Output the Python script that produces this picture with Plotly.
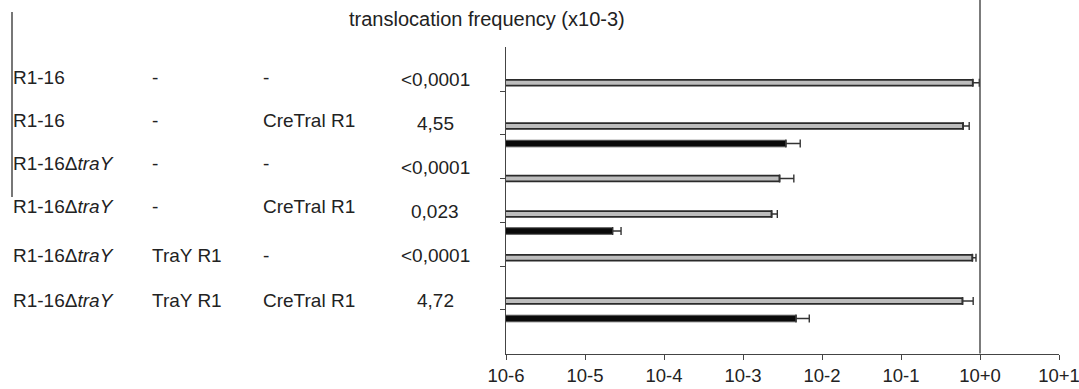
import plotly.graph_objects as go

# ---------------- data ----------------
strain = ["R1-16", "R1-16", "R1-16Δ<i>traY</i>", "R1-16Δ<i>traY</i>",
          "R1-16Δ<i>traY</i>", "R1-16Δ<i>traY</i>"]
complement = ["-", "-", "-", "-", "TraY R1", "TraY R1"]
substrate = ["-", "CreTral R1", "-", "CreTral R1", "-", "CreTral R1"]
freq_text = ["&lt;0,0001", "4,55", "&lt;0,0001", "0,023", "&lt;0,0001", "4,72"]

rows = [1, 2, 3, 4, 5, 6]
gray_values = [0.81, 0.61, 0.0029, 0.0023, 0.80, 0.60]
gray_errors = [0.17, 0.12, 0.0015, 0.00042, 0.09, 0.22]

black_rows = [2, 4, 6]
black_values = [0.0035, 2.24e-5, 0.0047]
black_errors = [0.0018, 6.2e-6, 0.0022]

tick_values = [1e-6, 1e-5, 1e-4, 1e-3, 1e-2, 1e-1, 1, 10]
tick_labels = ["10-6", "10-5", "10-4", "10-3", "10-2", "10-1", "10+0", "10+1"]
title_text = "translocation frequency (x10-3)"

# ---------------- layout constants ----------------
W, H = 1079, 389
FONT = "Liberation Sans, Arial, sans-serif"
TXT = "#222222"
gray_offset = [-0.19, -0.2, 0.0, -0.19, -0.19, -0.2]
black_offset = 0.2

def px(x):
    return x / W

def py(y):
    return 1 - y / H

fig = go.Figure()

fig.add_trace(go.Bar(
    orientation="h",
    y=[r + o for r, o in zip(rows, gray_offset)],
    x=gray_values,
    width=0.13,
    marker=dict(color="#bdbdbd", line=dict(color="#2a2a2a", width=1.8)),
    error_x=dict(type="data", symmetric=False, array=gray_errors,
                 arrayminus=[0] * len(gray_errors),
                 color="#333333", thickness=1.4, width=4),
    showlegend=False,
    hoverinfo="skip",
))
fig.add_trace(go.Bar(
    orientation="h",
    y=[r + black_offset for r in black_rows],
    x=black_values,
    width=0.15,
    marker=dict(color="#0a0a0a", line=dict(color="#555555", width=1)),
    error_x=dict(type="data", symmetric=False, array=black_errors,
                 arrayminus=[0] * len(black_errors),
                 color="#333333", thickness=1.4, width=4),
    showlegend=False,
    hoverinfo="skip",
))

fig.update_layout(
    width=W, height=H,
    margin=dict(l=0, r=0, t=0, b=0, pad=0),
    paper_bgcolor="white", plot_bgcolor="white",
    barmode="overlay",
    font=dict(family=FONT, size=19, color=TXT),
    xaxis=dict(
        type="log", domain=[px(506), px(1059)], range=[-6, 1],
        tickvals=tick_values, ticktext=tick_labels,
        ticks="outside", ticklen=5, tickcolor="#444444", tickwidth=1.4,
        showline=True, linecolor="#444444", linewidth=1.4,
        showgrid=False, zeroline=False, automargin=False,
        ticklabeloverflow="allow",
        tickfont=dict(family=FONT, size=18.5, color=TXT),
    ),
    yaxis=dict(
        domain=[py(353.5), py(47.3)], range=[7, 0],
        tickvals=rows, showticklabels=False,
        ticks="outside", ticklen=5, tickcolor="#444444", tickwidth=1.4,
        showline=True, linecolor="#444444", linewidth=1.4,
        showgrid=False, zeroline=False, automargin=False,
    ),
)

# vertical reference line at 10+0
fig.add_shape(type="line", xref="x", yref="paper", x0=1, x1=1,
              y0=py(353.5), y1=1, line=dict(color="#444444", width=1.4))
# stray left border line
fig.add_shape(type="line", xref="paper", yref="paper", x0=px(12), x1=px(12),
              y0=py(12), y1=py(197), line=dict(color="#777777", width=2))

# title
fig.add_annotation(text=title_text, xref="paper", yref="paper",
                   x=px(486.5), y=py(19), xanchor="center", yanchor="middle",
                   showarrow=False, font=dict(size=20, color=TXT))

row_y = [77, 120.5, 163.7, 206, 256, 300]
val_y = [79.5, 123.5, 167.5, 211.5, 256, 300.5]
for i in range(6):
    for txt, xl in ((strain[i], 11), (complement[i], 149.5), (substrate[i], 261)):
        fig.add_annotation(text=txt, xref="paper", yref="paper",
                           x=px(xl), y=py(row_y[i]), xanchor="left",
                           yanchor="middle", showarrow=False)
    fig.add_annotation(text=freq_text[i], xref="paper", yref="paper",
                       x=px(435), y=py(val_y[i]), xanchor="center",
                       yanchor="middle", showarrow=False)

fig.write_html(
    "out.html",
    config={"displayModeBar": False},
    post_script="document.body.style.margin='0';document.body.style.overflow='hidden';",
)
